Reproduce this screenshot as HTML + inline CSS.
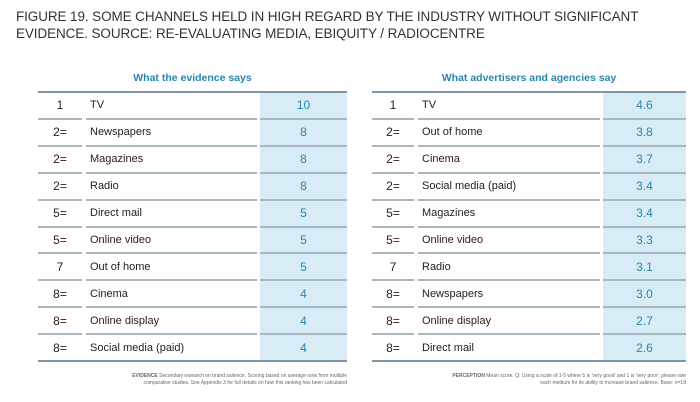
<!DOCTYPE html>
<html><head><meta charset="utf-8"><style>
body{margin:0;width:700px;height:402px;background:#fff;font-family:"Liberation Sans",sans-serif;position:relative;overflow:hidden}
.t{position:absolute;white-space:nowrap}
.title{left:16px;top:8px;font-size:13.5px;color:#333;line-height:17px;letter-spacing:-0.1px}
.hd{font-size:10.5px;color:#2a85b0;font-weight:bold;text-align:center}
.cell{position:absolute;background:#d8ecf6}
.ln{position:absolute;height:2px;background:#a9b9c4}
.thick{height:2px;background:#7f97a6}
.rk{font-size:12px;color:#222}
.nm{font-size:11px;color:#222}
.val{font-size:12px;color:#2a85b0;text-align:center}
.note{font-size:5px;color:#666;line-height:7px}
</style></head><body>
<div class="t title">FIGURE 19. SOME CHANNELS HELD IN HIGH REGARD BY THE INDUSTRY WITHOUT SIGNIFICANT<br>EVIDENCE. SOURCE: RE-EVALUATING MEDIA, EBIQUITY / RADIOCENTRE</div>
<div id="root"></div>
<div class="t note" style="left:120px;top:373px;text-align:right;width:227px"><b>EVIDENCE</b> Secondary research on brand salience. Scoring based on average rank from multiple<br>comparative studies. See Appendix 3 for full details on how this ranking has been calculated</div>
<div class="t note" style="left:380px;top:373px;text-align:right;width:306px"><b>PERCEPTION</b> Mean score. Q: Using a scale of 1-5 where 5 is 'very good' and 1 is 'very poor', please rate<br>each medium for its ability to increase brand salience. Base: n=19</div>
<script>
const leftRanks=["1","2=","2=","2=","5=","5=","7","8=","8=","8="];
const leftNames=["TV","Newspapers","Magazines","Radio","Direct mail","Online video","Out of home","Cinema","Online display","Social media (paid)"];
const leftValues=["10","8","8","8","5","5","5","4","4","4"];
const rightRanks=["1","2=","2=","2=","5=","5=","7","8=","8=","8="];
const rightNames=["TV","Out of home","Cinema","Social media (paid)","Magazines","Online video","Radio","Newspapers","Online display","Direct mail"];
const rightValues=["4.6","3.8","3.7","3.4","3.4","3.3","3.1","3.0","2.7","2.6"];
const root=document.getElementById('root');
function mk(cls,css,txt,name){const d=document.createElement('div');d.className=cls;d.style.cssText=css;if(txt!==undefined)d.textContent=txt;


root.appendChild(d);return d;}
const top0=92,rowH=26.9;
function table(side,x0,rankW,nameX,valX,x1,ranks,names,vals,header){
 mk('t hd',`left:${x0}px;top:72px;width:${x1-x0}px`,header,side+'-header');
 mk('cell',`left:${valX}px;top:${top0}px;width:${x1-valX}px;height:${rowH*ranks.length}px`,undefined,side+'-value-column');
 mk('ln thick',`left:${x0}px;top:${top0-1}px;width:${x1-x0}px`,undefined,side+'-top-rule');
 for(let i=0;i<ranks.length;i++){
  const y=top0+i*rowH, cy=y+rowH/2-7;
  mk('t rk',`left:${x0}px;top:${cy}px;width:${rankW}px;text-align:center`,ranks[i],side+'-rank');
  mk('t nm',`left:${nameX+4}px;top:${cy+1}px`,names[i],side+'-channel');
  mk('t val',`left:${valX}px;top:${cy}px;width:${x1-valX}px`,vals[i],side+'-value');
  const ly=y+rowH-1;
  if(i<ranks.length-1){
   mk('ln',`left:${x0}px;top:${ly}px;width:${rankW}px`,undefined,side+'-row-rule');
   mk('ln',`left:${nameX}px;top:${ly}px;width:${valX-nameX-3}px`,undefined,side+'-row-rule');
   mk('ln',`left:${valX}px;top:${ly}px;width:${x1-valX}px`,undefined,side+'-row-rule');
  } else mk('ln thick',`left:${x0}px;top:${ly}px;width:${x1-x0}px`,undefined,side+'-bottom-rule');
 }
}
table('left',38,44,86,260,347,leftRanks,leftNames,leftValues,'What the evidence says');
table('right',372,42,418,603,686,rightRanks,rightNames,rightValues,'What advertisers and agencies say');
</script>
</body></html>
